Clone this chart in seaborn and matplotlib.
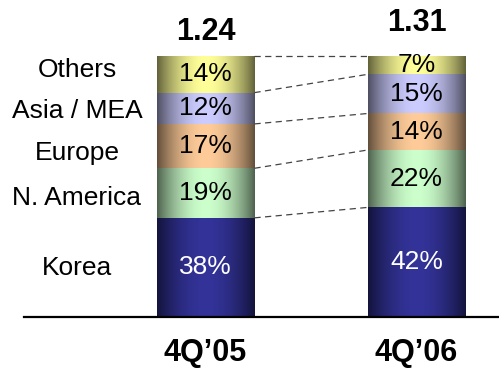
import numpy as np
import pandas as pd
import matplotlib
matplotlib.use("Agg")
import matplotlib.pyplot as plt
import matplotlib.colors as mcolors
import seaborn as sns

quarters = ["4Q\u201905", "4Q\u201906"]
regions = ["Korea", "N. America", "Europe", "Asia / MEA", "Others"]
korea = [38, 42]
n_america = [19, 22]
europe = [17, 14]
asia_mea = [12, 15]
others = [14, 7]
totals = ["1.24", "1.31"]
region_colors = ["#333399", "#ccffcc", "#ffcc99", "#ccccff", "#ffff99"]
text_colors = ["white", "black", "black", "black", "black"]

series = [korea, n_america, europe, asia_mea, others]
rows = []
for r, vals in zip(regions, series):
    for q, v in zip(quarters, vals):
        rows.append({"quarter": q, "region": r, "value": v})
df = pd.DataFrame(rows)

sns.set_theme(style="white")
plt.rcParams["font.family"] = ["Liberation Sans", "DejaVu Sans"]
plt.rcParams["text.color"] = "black"

fig = plt.figure(figsize=(4.99, 3.69), dpi=100)
ax = fig.add_axes([0.0481, 1 - 317 / 369, 1 - 0.0481, 317 / 369])

bar_w = 0.464
bottom = np.zeros(len(quarters))
for r, col in zip(regions, region_colors):
    sub = df[df.region == r]
    sns.barplot(data=sub, x="quarter", y="value", order=quarters, color=col,
                width=bar_w, bottom=bottom.copy(), ax=ax, saturation=1,
                linewidth=0, errorbar=None)
    bottom = bottom + sub["value"].to_numpy()

# horizontal gradient shading clipped to each bar segment
n = 200
t = np.linspace(0, 1, n)
shade = 0.38 + 0.62 * np.sin(np.pi * t) ** 0.9
for p in list(ax.patches):
    rgb = np.array(mcolors.to_rgb(p.get_facecolor()))
    img = (shade[:, None] * rgb[None, :])[None, :, :]
    x0, y0 = p.get_x(), p.get_y()
    w, h = p.get_width(), p.get_height()
    im = ax.imshow(img, extent=[x0, x0 + w, y0, y0 + h], aspect="auto",
                   interpolation="bilinear", zorder=2)
    im.set_clip_path(p)

# percentage labels
for i, (vals, tc) in enumerate(zip(series, text_colors)):
    for j, v in enumerate(vals):
        base = sum(s[j] for s in series[:i])
        ax.text(j, base + v / 2, f"{v}%", ha="center", va="center",
                fontsize=19, color=tc, zorder=4)

# dashed connectors between bars
cum = np.cumsum(np.array(series), axis=0)
for k in range(cum.shape[0]):
    ax.plot([0 + bar_w / 2, 1 - bar_w / 2], [cum[k, 0], cum[k, 1]],
            ls=(0, (5, 3.5)), color="#444444", lw=0.9, zorder=3)

# totals above bars
total_y = [109.3, 112.8]
for j, (tt, ty) in enumerate(zip(totals, total_y)):
    ax.text(j, ty, tt, ha="center", va="center", fontsize=22,
            fontweight="bold", color="black")

# region labels on the left
label_x = -0.609
label_y = [16.1, 42.9, 60.2, 76.2, 92.0]
for r, ly in zip(regions, label_y):
    ax.text(label_x, ly, r, ha="center", va="baseline", fontsize=19,
            color="black")

ax.set_xlim(-0.860, 1.391)
ax.set_ylim(0, 121.5)
ax.set_xlabel("")
ax.set_ylabel("")
ax.set_yticks([])
ax.set_xticks(range(len(quarters)))
ax.set_xticklabels(quarters, fontsize=22, fontweight="bold")
ax.tick_params(axis="x", length=0, pad=15, labelcolor="black")
for s in ["top", "left", "right"]:
    ax.spines[s].set_visible(False)
ax.spines["bottom"].set_color("black")
ax.spines["bottom"].set_linewidth(1.6)
ax.set_facecolor("white")
ax.patch.set_alpha(0)

fig.savefig("out.png", dpi=100, facecolor="white")
